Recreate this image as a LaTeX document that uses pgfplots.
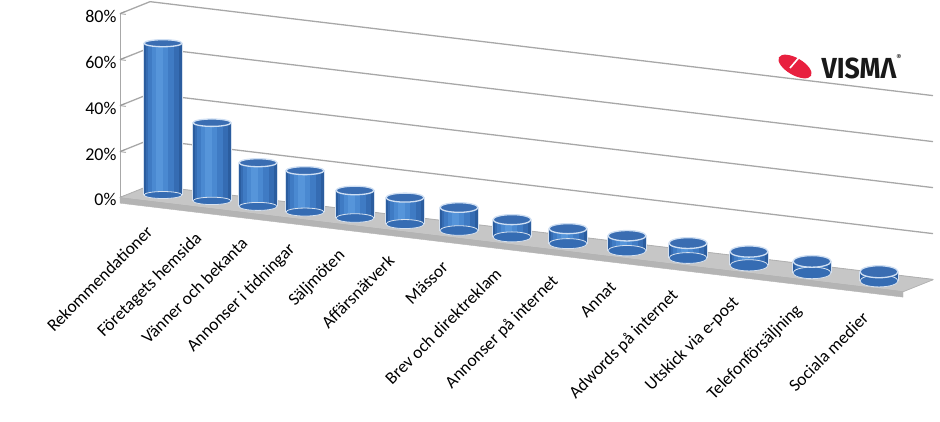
\documentclass[border=0pt]{standalone}
\usepackage{pgfplots}
\pgfplotsset{compat=1.18}
\usepackage{pgfplotstable}
\usepackage{fontspec}
\setmainfont{Carlito}
\newfontfamily\fira{Fira Sans}

\definecolor{glow}{HTML}{D6E1EF}
\definecolor{edgec}{HTML}{2B5D9F}
\definecolor{b1}{HTML}{356CB3}
\definecolor{b2}{HTML}{3F7BC4}
\definecolor{b3}{HTML}{4A89D1}
\definecolor{b4}{HTML}{5695DA}
\definecolor{topc}{HTML}{3A6DB2}
\definecolor{topring}{HTML}{CFDFF3}
\definecolor{botc}{HTML}{3670B8}
\definecolor{floorc}{HTML}{C6C6C6}
\definecolor{floorfront}{HTML}{B4B4B4}
\definecolor{gridc}{HTML}{A8A8A8}
\definecolor{vismared}{HTML}{E8203F}

\pgfdeclareplotmark{cyltop}{%
  \pgfpathellipse{\pgfpointorigin}{\pgfqpoint{19pt}{0pt}}{\pgfqpoint{0pt}{\ry pt}}%
  \pgfusepathqfillstroke}

\pgfplotstableread{
pos d z0 val ry
0   0.5 0 66   3.5
49  0.5 0 34   3.7
95  0.5 0 19   4.0
142 0.5 0 18   4.0
192 0.5 0 12   4.3
242 0.5 0 11.5 4.5
296 0.5 0 10   4.8
349 0.5 0 7.5  5.0
405 0.5 0 6.5  5.0
464 0.5 0 6.5  5.2
525 0.5 0 6.5  5.4
586 0.5 0 6    5.6
649 0.5 0 5    5.8
716 0.5 0 4    6.0
}\bars

\begin{document}
\begin{tikzpicture}
\useasboundingbox (0,0) rectangle (940pt,-421pt);
\begin{axis}[
  at={(148pt,-201pt)}, anchor=origin,
  x={(1pt,-0.12pt)}, y={(30pt,12pt)}, z={(0pt,2.3pt)},
  xmin=-28, xmax=755, ymin=0, ymax=1, zmin=0, zmax=80,
  clip=false,
  axis lines*=left,
  tick pos=left,
  ztick={0,20,40,60,80},
  zticklabel={\pgfmathprintnumber{\tick}\%},
  /pgf/number format/assume math mode=true,
  ytick=\empty,
  xtick={0,49,95,142,192,242,296,349,405,464,525,586,649,716},
  xticklabels={Rekommendationer,Företagets hemsida,Vänner och bekanta,Annonser i tidningar,Säljmöten,Affärsnätverk,Mässor,Brev och direktreklam,Annonser på internet,Annat,Adwords på internet,Utskick via e-post,Telefonförsäljning,Sociala medier},
  xticklabel style={font=\fontsize{17.5}{18}\selectfont, yshift=-22pt, xshift=-3pt, rotate=45, anchor=north east, inner sep=1pt},
  zticklabel style={font=\fontsize{18}{20}\selectfont},
  zmajorgrids,
  major grid style={draw=gridc, line width=1.3pt},
  axis line style={draw=gridc, line width=1pt},
  tick style={draw=gray!80, line width=0.8pt},
  major tick length=6pt,
]
% floor
\addplot3[draw=floorfront, fill=floorc] coordinates {(-28,0,0) (755,0,0) (755,1,0) (-28,1,0) (-28,0,0)};
\addplot3[draw=floorfront, fill=floorfront] coordinates {(-28,0,0) (755,0,0) (755,0,-2.4) (-28,0,-2.4) (-28,0,0)};
% bottoms
\addplot3[scatter, only marks, mark=cyltop, point meta=\thisrow{val},
  visualization depends on={\thisrow{ry}\as\ry},
  scatter/use mapped color={draw=glow, fill=b1}, mark options={line width=0.8pt}]
  table[x=pos, y=d, z=z0] {\bars};
% bodies
\addplot3[draw=glow, line width=40pt, quiver={u=0, v=0, w=\thisrow{val}}] table[x=pos, y=d, z=z0] {\bars};
\addplot3[draw=edgec, line width=38pt, quiver={u=0, v=0, w=\thisrow{val}}] table[x=pos, y=d, z=z0] {\bars};
\addplot3[draw=b1, line width=33pt, xshift=-1pt, quiver={u=0, v=0, w=\thisrow{val}}] table[x=pos, y=d, z=z0] {\bars};
\addplot3[draw=b2, line width=26pt, xshift=-2pt, quiver={u=0, v=0, w=\thisrow{val}}] table[x=pos, y=d, z=z0] {\bars};
\addplot3[draw=b3, line width=16pt, xshift=-3pt, quiver={u=0, v=0, w=\thisrow{val}}] table[x=pos, y=d, z=z0] {\bars};
\addplot3[draw=b4, line width=7pt, xshift=-4pt, quiver={u=0, v=0, w=\thisrow{val}}] table[x=pos, y=d, z=z0] {\bars};
% tops
\addplot3[scatter, only marks, mark=cyltop, point meta=\thisrow{val},
  visualization depends on={\thisrow{ry}\as\ry},
  scatter/use mapped color={draw=topring, fill=topc}, mark options={line width=1.3pt}]
  table[x=pos, y=d, z=val] {\bars};
\end{axis}
% logo
\fill[vismared, rotate around={-30:(795pt,-66.5pt)}] (795pt,-66.5pt) ellipse (18.5pt and 8.5pt);
\draw[white, line width=1.6pt] (802pt,-54pt) -- (790pt,-68pt);
\node[font=\fira\bfseries\fontsize{29}{29}\selectfont, text=black!90, xscale=0.92, inner sep=0pt] at (859pt,-68pt) {VISMΛ};
\node[font=\fira\fontsize{8}{8}\selectfont, inner sep=0pt] at (899pt,-57pt) {®};
\end{tikzpicture}
\end{document}
